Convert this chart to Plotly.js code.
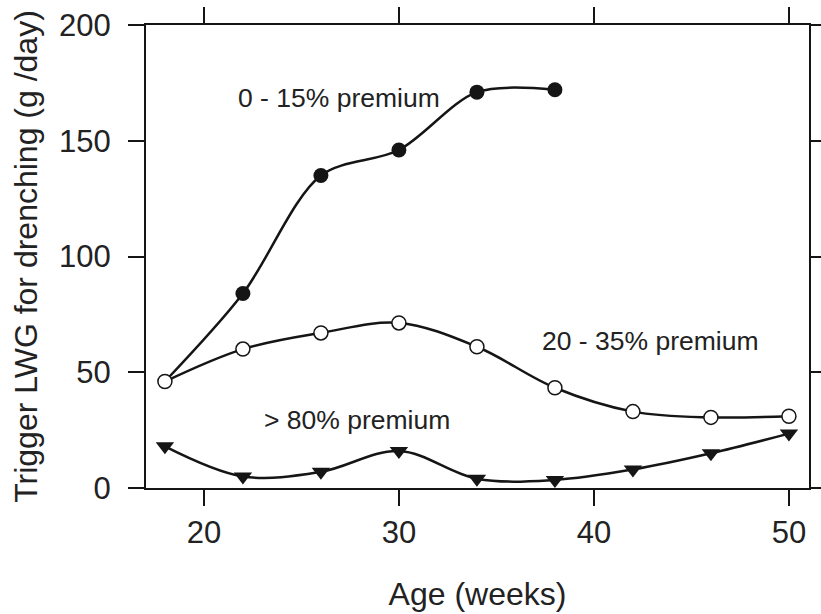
<!DOCTYPE html>
<html>
<head>
<meta charset="utf-8">
<script src="https://cdn.plot.ly/plotly-3.0.1.min.js"></script>
<style>html,body{margin:0;padding:0;background:#fff;}#chart{width:821px;height:614px;}</style>
</head>
<body>
<div id="chart"></div>
<script>
// Data
const weeksLow = [18, 22, 26, 30, 34, 38];
const lwgLow = [46, 84, 135, 146, 171, 172];          // 0 - 15% premium (filled circles)

const weeksMid = [18, 22, 26, 30, 34, 38, 42, 46, 50];
const lwgMid = [46, 60, 67, 71.3, 61, 43.3, 33, 30.5, 31];   // 20 - 35% premium (open circles)

const weeksHigh = [18, 22, 26, 30, 34, 38, 42, 46, 50];
const lwgHigh = [18, 5, 7, 16, 4, 3.5, 8, 15, 23.5];       // > 80% premium (triangles)

const xTicks = [20, 30, 40, 50];
const yTicks = [0, 50, 100, 150, 200];

const labelLow = "0 - 15% premium";
const labelMid = "20 - 35% premium";
const labelHigh = "> 80% premium";
const xTitle = "Age (weeks)";
const yTitle = "Trigger LWG for drenching (g /day)";

const ink = "#151515";
const textInk = "#222";
const fam = "Arial, 'Liberation Sans', Helvetica, sans-serif";

const lowMarkerSizes = weeksLow.map((w, i) => i === 0 ? 0 : 15);

const traces = [
  {
    x: weeksLow, y: lwgLow, mode: "lines+markers", name: labelLow,
    line: {color: ink, width: 2.5, shape: "spline", smoothing: 0.9},
    marker: {symbol: "circle", color: ink, size: lowMarkerSizes, opacity: 1, line: {width: 0}}
  },
  {
    x: weeksHigh, y: lwgHigh, mode: "lines+markers", name: labelHigh,
    line: {color: ink, width: 2.5, shape: "spline", smoothing: 1},
    marker: {symbol: "triangle-down", color: ink, size: 16, opacity: 1, line: {width: 0}}
  },
  {
    x: weeksMid, y: lwgMid, mode: "lines+markers", name: labelMid,
    line: {color: ink, width: 2.5, shape: "spline", smoothing: 1},
    marker: {symbol: "circle", color: "#fff", size: 14, opacity: 1, line: {color: ink, width: 1.5}}
  }
];

const axisCommon = {
  showgrid: false, zeroline: false,
  showline: true, linecolor: ink, linewidth: 2,
  mirror: "ticks", ticks: "outside", ticklen: 16, tickwidth: 2, tickcolor: ink,
  tickfont: {family: fam, size: 31, color: textInk}
};

const layout = {
  width: 821, height: 614,
  margin: {l: 146, r: 12, t: 25, b: 126, pad: 0},
  paper_bgcolor: "#fff", plot_bgcolor: "#fff",
  showlegend: false,
  font: {family: fam, color: textInk},
  xaxis: Object.assign({}, axisCommon, {
    range: [17.03, 51.03], tickvals: xTicks, ticktext: xTicks.map(String),
    title: {text: xTitle, font: {family: fam, size: 32, color: textInk}, standoff: 33}
  }),
  yaxis: Object.assign({}, axisCommon, {
    range: [0, 200], tickvals: yTicks, ticktext: yTicks.map(String),
    ticklabelstandoff: 11,
    title: {text: yTitle, font: {family: fam, size: 32, color: textInk}, standoff: 12}
  }),
  annotations: [
    {x: 26.95, y: 168.4, xref: "x", yref: "y", text: labelLow, showarrow: false,
     xanchor: "center", yanchor: "middle", font: {family: fam, size: 26.5, color: textInk}},
    {x: 42.88, y: 63.4, xref: "x", yref: "y", text: labelMid, showarrow: false,
     xanchor: "center", yanchor: "middle", font: {family: fam, size: 26.5, color: textInk}},
    {x: 27.83, y: 29.3, xref: "x", yref: "y", text: labelHigh, showarrow: false,
     xanchor: "center", yanchor: "middle", font: {family: fam, size: 26.5, color: textInk}}
  ]
};

Plotly.newPlot("chart", traces, layout, {displayModeBar: false, staticPlot: true});
</script>
</body>
</html>
